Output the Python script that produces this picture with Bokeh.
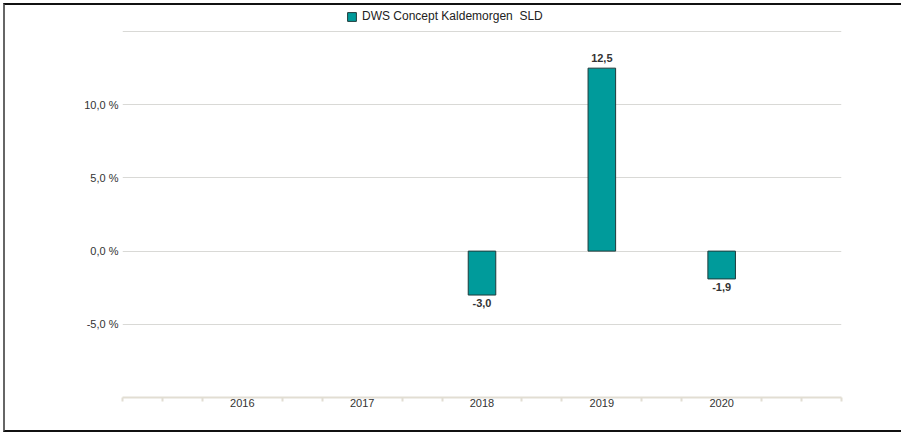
from bokeh.plotting import figure
from bokeh.models import (ColumnDataSource, FixedTicker, CustomJSTickFormatter, Legend,
                          LegendItem, Range1d)
from bokeh.embed import file_html
from bokeh.resources import INLINE
from bokeh.core.properties import value

# ---- data ----
years = [2018, 2019, 2020]
returns = [-3.0, 12.5, -1.9]
series_name = "DWS Concept Kaldemorgen  SLD"
x_ticks = [2016, 2017, 2018, 2019, 2020]
y_ticks = [-5, 0, 5, 10]
grid_ticks = [-5, 0, 5, 10, 15]

FONT = "Liberation Sans"
BAR = "#009b9b"
BAR_LINE = "#1f3b3b"
TXT = "#333333"
AXIS = "#e2ded3"

def fmt(v):
    return f"{v:.1f}".replace(".", ",")

src = ColumnDataSource(dict(x=years, top=returns))
pos = ColumnDataSource(dict(x=[x for x, v in zip(years, returns) if v >= 0],
                            y=[v for v in returns if v >= 0],
                            t=[fmt(v) for v in returns if v >= 0]))
neg = ColumnDataSource(dict(x=[x for x, v in zip(years, returns) if v < 0],
                            y=[v for v in returns if v < 0],
                            t=[fmt(v) for v in returns if v < 0]))

p = figure(width=898, height=429, output_backend="svg", toolbar_location=None,
           x_range=Range1d(2015, 2021), y_range=Range1d(-10, 16.78),
           min_border_left=117, min_border_right=62, min_border_top=0,
           min_border_bottom=37)
p.outline_line_color = None
p.background_fill_color = "white"
p.border_fill_color = "white"
p.styles = {"border-top": "2px solid #111111", "border-left": "2px solid #666666",
            "border-bottom": "2px solid #111111",
            "margin-top": "3px", "margin-left": "3px"}

r = p.vbar(x="x", top="top", bottom=0, width=0.23, source=src,
           fill_color=BAR, line_color=BAR_LINE, line_width=1)

p.text(x="x", y="y", text="t", source=pos, text_align="center",
       text_baseline="bottom", y_offset=-6, text_font=value(FONT),
       text_font_size="11px", text_font_style="bold", text_color=TXT)
p.text(x="x", y="y", text="t", source=neg, text_align="center",
       text_baseline="top", y_offset=4, text_font=value(FONT),
       text_font_size="11px", text_font_style="bold", text_color=TXT)

# x axis
minor = []
for y0 in range(2015, 2021):
    for k in range(3):
        v = y0 + k / 3
        if k != 0 or y0 == 2015:
            minor.append(v)
minor.append(2021)
p.xaxis.ticker = FixedTicker(ticks=x_ticks, minor_ticks=minor)
p.xaxis.axis_line_color = AXIS
p.xaxis.axis_line_width = 2
p.xaxis.major_tick_line_color = None
p.xaxis.major_tick_out = 0
p.xaxis.major_tick_in = 0
p.xaxis.minor_tick_line_color = AXIS
p.xaxis.minor_tick_line_width = 2
p.xaxis.minor_tick_out = 4
p.xaxis.minor_tick_in = 0
p.xaxis.major_label_standoff = -3
p.xaxis.major_label_text_font = FONT
p.xaxis.major_label_text_font_size = "11px"
p.xaxis.major_label_text_color = TXT
p.xgrid.visible = False

# y axis
p.yaxis.ticker = FixedTicker(ticks=y_ticks, minor_ticks=[])
p.yaxis.formatter = CustomJSTickFormatter(
    code="return tick.toFixed(1).replace('.', ',') + ' %';")
p.yaxis.axis_line_color = None
p.yaxis.major_tick_line_color = None
p.yaxis.minor_tick_line_color = None
p.yaxis.major_tick_out = 0
p.yaxis.major_label_standoff = 4
p.yaxis.major_label_text_font = FONT
p.yaxis.major_label_text_font_size = "11px"
p.yaxis.major_label_text_color = TXT
p.ygrid.ticker = FixedTicker(ticks=grid_ticks)
p.ygrid.grid_line_color = "#d9d9d6"
p.ygrid.grid_line_width = 1

legend = Legend(items=[LegendItem(label=series_name, renderers=[r])],
                location=(224, 374), orientation="horizontal",
                padding=0, margin=0, glyph_width=11, glyph_height=11,
                label_text_font=FONT, label_text_font_size="12px",
                label_text_color="#222222", label_standoff=5,
                border_line_color=None, background_fill_alpha=0)
p.add_layout(legend)

open("out.html", "w").write(file_html(p, INLINE))
